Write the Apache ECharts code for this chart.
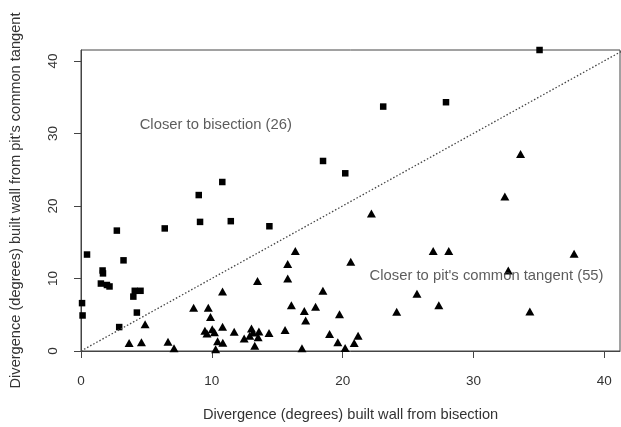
<!DOCTYPE html>
<html>
<head>
<meta charset="utf-8">
<script src="https://cdn.jsdelivr.net/npm/echarts@6/dist/echarts.min.js"></script>
<style>
  html, body { margin: 0; padding: 0; background: #fff; }
  #chart { width: 621px; height: 427px; }
</style>
</head>
<body>
<div id="chart"></div>
<script>
// closer to bisection (squares): [x, y]
let bisectionPts = [
    [10.8, 23.3], [9.0, 21.5], [9.1, 17.8], [11.45, 17.9], [2.74, 16.6],
    [6.4, 16.9], [0.46, 13.3], [3.25, 12.5], [1.65, 11.1], [1.68, 10.7],
    [1.52, 9.3], [1.98, 9.1], [2.18, 8.9], [4.11, 8.3], [4.55, 8.3],
    [4.0, 7.5], [0.08, 6.6], [0.12, 4.9], [4.27, 5.3], [2.92, 3.3],
    [23.1, 33.7], [27.9, 34.3], [18.5, 26.2], [20.2, 24.5], [14.4, 17.2],
    [35.05, 41.5]
];
// closer to pit's common tangent (triangles)
let tangentPts = [
    [13.49, 9.66], [10.82, 8.2], [8.61, 5.95], [9.73, 5.95], [9.9, 4.7],
    [4.9, 3.7], [10.82, 3.34], [9.47, 2.8], [10.03, 3.0], [9.63, 2.4],
    [11.71, 2.65], [13.03, 3.1], [13.15, 2.55], [12.47, 1.74], [12.9, 2.1],
    [13.54, 1.88], [10.44, 1.33], [10.84, 1.14], [13.28, 0.73], [3.68, 1.1],
    [4.62, 1.19], [6.65, 1.28], [7.11, 0.37], [10.29, 0.23],
    [22.2, 18.96], [16.38, 13.8], [15.8, 12.0], [20.62, 12.3], [15.8, 10.0],
    [18.49, 8.29], [16.08, 6.32], [17.07, 5.5], [17.93, 6.09], [17.17, 4.2],
    [19.76, 5.08], [14.37, 2.47], [15.6, 2.88], [19.0, 2.34], [21.18, 2.1],
    [19.63, 1.19], [20.88, 1.1], [16.89, 0.37], [20.19, 0.41], [24.13, 5.4],
    [25.68, 7.88], [27.35, 6.32], [26.92, 13.78], [28.11, 13.78],
    [33.6, 27.15], [32.4, 21.3], [37.69, 13.4], [32.66, 11.1], [34.31, 5.45],
    [13.6, 2.7], [10.2, 2.6]
];
let diagonal = [[0, 0], [45, 45]];
let annotations = [
    {name: 'Closer to bisection (26)', value: [10.3, 31.2]},
    {name: "Closer to pit's common tangent (55)", value: [31.0, 10.3]}
];
let xTicks = [0, 10, 20, 30, 40];
let yTicks = [0, 10, 20, 30, 40];

let chart = echarts.init(document.getElementById('chart'));
let font = '"Liberation Sans", Arial, sans-serif';
let axisColor = '#444';
let textColor = '#333';

let option = {
    animation: false,
    textStyle: { fontFamily: font },
    grid: {
        left: 79, right: 1, top: 50, bottom: 75,
        show: true, borderColor: axisColor, borderWidth: 1
    },
    xAxis: {
        type: 'value',
        min: 0, max: 41.2, interval: 10,
        name: 'Divergence (degrees) built wall from bisection',
        nameLocation: 'middle',
        nameGap: 56,
        nameTextStyle: { fontSize: 14.6, color: textColor, fontFamily: font },
        axisLine: { show: true, lineStyle: { color: axisColor } },
        axisTick: { show: true, inside: false, length: 7, lineStyle: { color: axisColor } },
        axisLabel: {
            fontSize: 13.5, color: textColor, margin: 23, fontFamily: font,
            showMaxLabel: false,
            formatter: v => xTicks.indexOf(v) >= 0 ? String(v) : ''
        },
        splitLine: { show: false }
    },
    yAxis: {
        type: 'value',
        min: 0, max: 41.5, interval: 10,
        name: "Divergence (degrees) built wall from pit's common tangent",
        nameLocation: 'middle',
        nameGap: 58,
        nameTextStyle: { fontSize: 14.6, color: textColor, fontFamily: font },
        axisLine: { show: true, lineStyle: { color: axisColor } },
        axisTick: { show: true, inside: false, length: 7, lineStyle: { color: axisColor } },
        axisLabel: {
            fontSize: 13.5, color: textColor, margin: 21, rotate: 90, fontFamily: font,
            showMaxLabel: false,
            formatter: v => yTicks.indexOf(v) >= 0 ? String(v) : ''
        },
        splitLine: { show: false }
    },
    series: [
        {
            type: 'line',
            data: diagonal,
            symbol: 'none',
            lineStyle: { color: '#444', width: 1.3, type: [1.5, 2] },
            clip: true,
            silent: true
        },
        {
            type: 'scatter',
            data: bisectionPts,
            symbol: 'rect',
            symbolSize: 6.5,
            itemStyle: { color: '#000', opacity: 1 },
            clip: false
        },
        {
            type: 'scatter',
            data: tangentPts,
            symbol: 'triangle',
            symbolSize: [9, 8],
            itemStyle: { color: '#000', opacity: 1 }
        },
        {
            type: 'scatter',
            data: annotations,
            symbolSize: 0,
            silent: true,
            label: {
                show: true,
                position: 'inside',
                formatter: '{b}',
                fontSize: 14.8,
                color: textColor,
                fontFamily: font
            }
        }
    ]
};

chart.setOption(option);
</script>
</body>
</html>
